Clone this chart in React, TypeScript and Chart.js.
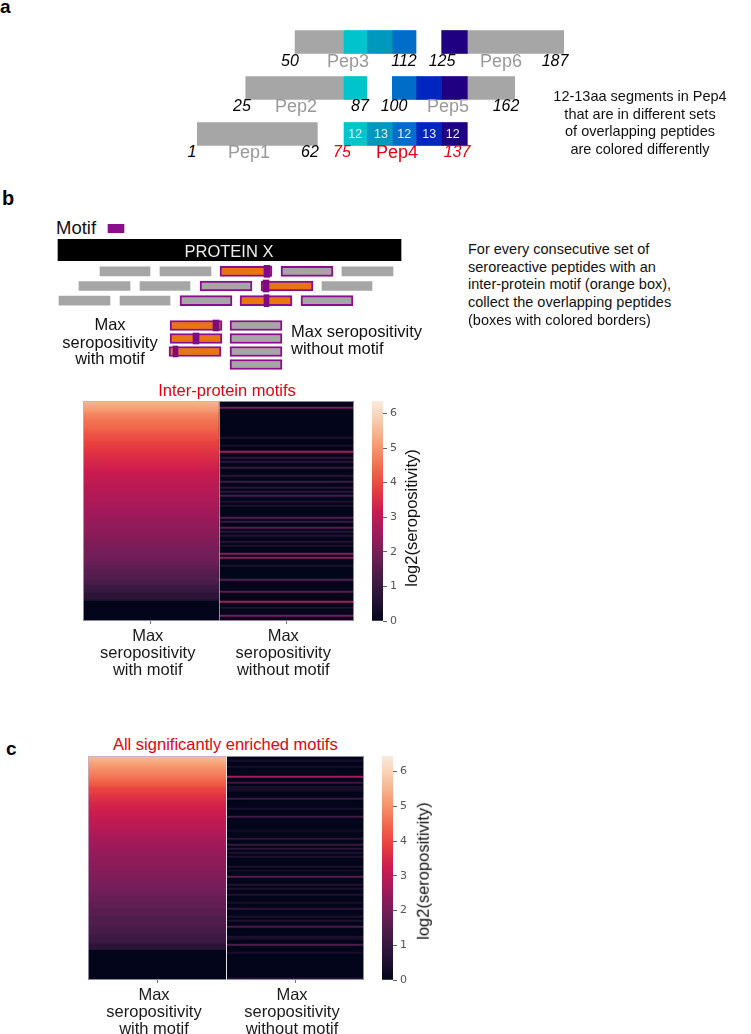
import React, { useEffect, useRef } from "react";
import { Chart, registerables } from "chart.js";

Chart.register(...registerables);

const FONT = '"Liberation Sans", Arial, sans-serif';

// ---------- Panel a: residue ranges per row, as drawn in the schematic ----------
const peptideRows = ["top", "middle", "bottom"];
const grayRanges = [
  { y: "top", x: [50.7, 75.5] }, { y: "top", x: [138, 187] },
  { y: "middle", x: [25.7, 75.5] }, { y: "middle", x: [138, 162] },
  { y: "bottom", x: [1, 62] },
];
const seg75to87 = [{ y: "top", x: [75.5, 87] }, { y: "middle", x: [75.5, 87] }, { y: "bottom", x: [75.5, 87] }];
const seg87to100 = [{ y: "top", x: [87, 100] }, { y: "bottom", x: [87, 100] }];
const seg100to112 = [{ y: "top", x: [100, 112] }, { y: "middle", x: [100, 112] }, { y: "bottom", x: [100, 112] }];
const seg112to125 = [{ y: "middle", x: [112, 125] }, { y: "bottom", x: [112, 125] }];
const seg125to137 = [{ y: "top", x: [125, 138] }, { y: "middle", x: [125, 138] }, { y: "bottom", x: [125, 138] }];

// ---------- Panel b schematic ----------
const proteinRange = [{ y: "protein", x: [58, 401] }];
const motifKey = [{ y: "key", x: [108, 124] }];
const tileRows = ["r1", "r2", "r3"];
const tilePlain = [
  { y: "r1", x: [100, 150] }, { y: "r1", x: [160, 211] }, { y: "r1", x: [342, 393] },
  { y: "r2", x: [79, 130] }, { y: "r2", x: [140, 190] }, { y: "r2", x: [322, 372] },
  { y: "r3", x: [59, 110] }, { y: "r3", x: [120, 170] },
];
const tileOverlapGray = [
  { y: "r1", x: [281, 333] }, { y: "r2", x: [200, 252] },
  { y: "r3", x: [180, 232] }, { y: "r3", x: [301, 353] },
];
const tileOverlapOrange = [
  { y: "r1", x: [220, 272] }, { y: "r2", x: [261, 313] }, { y: "r3", x: [240, 292] },
];
const tileMotif = [
  { y: "r1", x: [264, 270] }, { y: "r2", x: [263, 269] }, { y: "r3", x: [264, 269] },
];
const pickedRows = ["p1", "p2", "p3", "p4"];
const pickedOrange = [
  { y: "p1", x: [170, 222] }, { y: "p2", x: [170, 222] }, { y: "p3", x: [169, 221] },
];
const pickedGray = [
  { y: "p1", x: [230, 282] }, { y: "p2", x: [230, 282] }, { y: "p3", x: [230, 282] }, { y: "p4", x: [230, 282] },
];
const pickedMotif = [
  { y: "p1", x: [213, 219] }, { y: "p2", x: [193, 199] }, { y: "p3", x: [173, 178] },
];

// ---------- Heatmap values, log2(seropositivity), one entry per row ----------
const heatColumns = ["Max seropositivity with motif", "Max seropositivity without motif"];
const tickWithMotif = ["Max", "seropositivity", "with motif"];
const tickWithoutMotif = ["Max", "seropositivity", "without motif"];
const colorbarTicks = [0, 1, 2, 3, 4, 5, 6];

const interWith = [
  5.5, 5.4, 5.3, 5.2, 5.1, 5.0, 4.8, 4.75, 4.7, 4.62,
  4.55, 4.5, 4.45, 4.4, 4.3, 4.25, 4.15, 4.1, 4.05, 4.0,
  3.9, 3.85, 3.8, 3.75, 3.7, 3.65, 3.6, 3.55, 3.5, 3.46,
  3.42, 3.38, 3.34, 3.3, 3.25, 3.2, 3.17, 3.12, 3.08, 3.04,
  3, 3, 2.95, 2.95, 2.9, 2.87, 2.87, 2.81, 2.81, 2.77,
  2.75, 2.7, 2.7, 2.65, 2.58, 2.58, 2.58, 2.52, 2.5, 2.46,
  2.43, 2.4, 2.36, 2.32, 2.32, 2.32, 2.25, 2.25, 2.2, 2.17,
  2.12, 2.12, 2.07, 2.07, 2, 2, 2, 1.95, 1.9, 1.9,
  1.8, 1.8, 1.7, 1.7, 1.58, 1.58, 1.58, 1.46, 1.46, 1.46,
  1.32, 1.32, 1.15, 1.15, 1, 1, 0.8, 0.8, 0.8, 0.6,
  0, 0, 0, 0, 0, 0, 0, 0, 0, 0,
];
const interWithout = [
  0, 0, 0, 2.0, 0, 0, 0, 0, 0, 0,
  0, 0, 0, 0, 0, 0, 0, 0, 0.5, 0,
  0, 0, 0.4, 0, 0, 2.6, 0, 0, 0.8, 0,
  0.8, 0, 0, 1, 0, 0, 0, 0.8, 0, 0,
  1.1, 0, 0, 0.7, 0, 0.8, 0, 1.3, 0, 0,
  0.5, 0, 0.5, 0, 0, 0, 0, 0, 1.5, 0,
  1, 0, 0, 1.5, 0, 0.8, 0, 0.6, 0, 0,
  0.6, 0, 0.5, 0, 0, 0, 2.2, 0, 2.3, 0,
  0, 0, 0.5, 0, 0, 0, 0, 0, 0, 1.5,
  0, 0, 0, 0, 0, 1.5, 0, 0, 0, 0,
  2.8, 0, 0, 0.5, 0, 0, 0, 2.0, 0, 0,
];
const allWith = [
  5.55, 5.45, 5.35, 5.25, 5.12, 5.05, 4.95, 4.85, 4.78, 4.7,
  4.6, 4.5, 4.4, 4.3, 4.2, 4.05, 3.9, 3.85, 3.8, 3.7,
  3.6, 3.55, 3.5, 3.45, 3.4, 3.35, 3.3, 3.25, 3.2, 3.17,
  3.12, 3.08, 3.04, 3, 3, 2.95, 2.9, 2.87, 2.81, 2.75,
  2.7, 2.66, 2.64, 2.6, 2.58, 2.52, 2.5, 2.46, 2.43, 2.4,
  2.36, 2.32, 2.32, 2.32, 2.3, 2.25, 2.25, 2.2, 2.17, 2.17,
  2.12, 2.12, 2.07, 2.07, 2, 2, 2, 1.95, 1.9, 1.9,
  1.8, 1.8, 1.8, 1.7, 1.7, 1.7, 1.58, 1.58, 1.58, 1.58,
  1.46, 1.46, 1.46, 1.46, 1.46, 1.32, 1.32, 1.32, 1.32, 1.15,
  1.15, 1.15, 1.15, 1, 0.8, 0.8, 0.8, 0, 0, 0,
  0, 0, 0, 0, 0, 0, 0, 0, 0, 0,
  0, 0,
];
const allWithout = [
  0, 0, 0.4, 0, 0, 0.4, 0, 0, 0, 0,
  2.6, 0, 0, 1, 0, 0.4, 0.4, 0.3, 0, 0,
  0, 1, 0, 0, 0, 0, 0.4, 0, 0, 0,
  1.2, 0, 0, 0, 0, 0, 0, 0.3, 0, 0,
  0, 0.7, 0, 0, 1, 0, 0.7, 0, 0.5, 0,
  0.5, 0, 0, 0, 0, 0.5, 0, 0.3, 0, 0,
  1.5, 0, 0, 0, 0.6, 0, 0.5, 0, 0, 0.6,
  0, 0, 0, 0.4, 0, 0, 0.8, 0, 0, 0,
  0.5, 0, 0.5, 0, 0, 1.3, 0, 0, 0, 0,
  0.5, 0.4, 0, 0, 1.4, 0, 0, 0, 0.4, 0,
  0, 0, 0, 0, 0, 0, 0, 0, 0, 0,
  0, 0.8,
];

// ---------- Styles ----------
const ROCKET = ["#03051a", "#251335", "#451c47", "#701f57", "#a11a5b", "#cb1b4f", "#e83f3f", "#f26c4e", "#f69c73", "#f7c8a8", "#faebdd"];
const GRAY = "#a6a6a6";
const PURPLE = "#8b0f8b";
const MOTIF = "#7d0a80";
const ORANGE = "#e8750f";

function hex(c: string) {
  return [1, 3, 5].map((i) => parseInt(c.slice(i, i + 2), 16));
}
function rocket(t: number) {
  const p = Math.max(0, Math.min(1, t)) * (ROCKET.length - 1);
  const i = Math.min(Math.floor(p), ROCKET.length - 2);
  const a = hex(ROCKET[i]);
  const b = hex(ROCKET[i + 1]);
  const f = p - i;
  return `rgb(${a.map((v, k) => Math.round(v + (b[k] - v) * f)).join(",")})`;
}

function useChart(build: (c: HTMLCanvasElement) => any) {
  const ref = useRef<HTMLCanvasElement>(null);
  useEffect(() => {
    const chart = new Chart(ref.current as HTMLCanvasElement, build(ref.current as HTMLCanvasElement));
    return () => chart.destroy();
  }, []);
  return ref;
}

const abs = (left: number, top: number): React.CSSProperties => ({ position: "absolute", left, top, display: "block" });

function RangeChart({ left, top, width, height, min, max, rows, series }: any) {
  const ref = useChart(() => ({
    type: "bar",
    data: {
      labels: rows,
      datasets: series.map((s: any) => ({
        data: s.data,
        stack: "row",
        backgroundColor: s.fill,
        borderColor: s.edge ?? s.fill,
        borderWidth: s.edge ? 2 : 0,
        borderSkipped: false,
        barThickness: s.thick,
      })),
    },
    options: {
      indexAxis: "y",
      animation: false,
      responsive: false,
      devicePixelRatio: 1,
      layout: { padding: 0, autoPadding: false },
      plugins: { legend: { display: false }, tooltip: { enabled: false } },
      scales: {
        x: { type: "linear", min, max, stacked: false, display: false },
        y: { type: "category", stacked: true, display: false },
      },
    },
  }));
  return <canvas ref={ref} width={width} height={height} style={abs(left, top)} />;
}

function Heatmap({ left, top, width, rowsHeight, withMotif, withoutMotif, vmax, split }: any) {
  const ref = useChart(() => ({
    type: "bar",
    data: {
      labels: withMotif.map((_: number, i: number) => String(i)),
      datasets: [
        { label: heatColumns[0], data: withMotif.map(() => [0, 1]), backgroundColor: withMotif.map((v: number) => rocket(v / vmax)), stack: "row", barPercentage: 1, categoryPercentage: 1 },
        { label: heatColumns[1], data: withoutMotif.map(() => [1, 2]), backgroundColor: withoutMotif.map((v: number) => rocket(v / vmax)), stack: "row", barPercentage: 1, categoryPercentage: 1 },
      ],
    },
    options: {
      indexAxis: "y",
      animation: false,
      responsive: false,
      devicePixelRatio: 1,
      layout: { padding: 0, autoPadding: false },
      plugins: { legend: { display: false }, tooltip: { enabled: false } },
      scales: {
        x: {
          type: "linear", min: 0, max: 2, stacked: false,
          afterBuildTicks: (a: any) => { a.ticks = [{ value: 0.5 }, { value: 1.5 }]; },
          afterFit: (a: any) => { a.height = 60; },
          border: { display: false },
          grid: { drawOnChartArea: false, tickLength: 3, color: "#777", tickWidth: 1 },
          ticks: {
            autoSkip: false, maxRotation: 0, minRotation: 0, padding: 4.5, labelOffset: -3, color: "#1a1a1a",
            font: { family: FONT, size: 16.5, lineHeight: 1.02 },
            callback: (v: number) => (v < 1 ? tickWithMotif : tickWithoutMotif),
          },
        },
        y: { type: "category", stacked: true, display: false },
      },
    },
    plugins: [{
      id: "frame",
      afterDatasetsDraw(c: any) {
        const { ctx, chartArea: a, scales } = c;
        ctx.save();
        ctx.strokeStyle = "rgba(190,175,205,0.75)";
        ctx.lineWidth = 1;
        ctx.strokeRect(a.left + 0.5, a.top + 0.5, a.width - 1, a.height - 1);
        ctx.strokeStyle = split;
        ctx.beginPath();
        const x = Math.round(scales.x.getPixelForValue(1)) + 0.5;
        ctx.moveTo(x, a.top);
        ctx.lineTo(x, a.bottom);
        ctx.stroke();
        ctx.restore();
      },
    }],
  }));
  return <canvas ref={ref} width={width} height={rowsHeight + 60} style={abs(left, top)} />;
}

function Colorbar({ left, top, height, max }: any) {
  const ref = useChart(() => ({
    type: "bar",
    data: {
      labels: ["log2(seropositivity)"],
      datasets: [{
        data: [[0, max]],
        barPercentage: 1,
        categoryPercentage: 1,
        backgroundColor: (ctx: any) => {
          const a = ctx.chart.chartArea;
          if (!a) return ROCKET[0];
          const g = ctx.chart.ctx.createLinearGradient(0, a.bottom, 0, a.top);
          ROCKET.forEach((c, i) => g.addColorStop(i / (ROCKET.length - 1), c));
          return g;
        },
      }],
    },
    options: {
      animation: false,
      responsive: false,
      devicePixelRatio: 1,
      layout: { padding: { top: 8, bottom: 8 }, autoPadding: false },
      plugins: { legend: { display: false }, tooltip: { enabled: false } },
      scales: {
        x: { type: "category", display: false },
        y: {
          type: "linear", position: "right", min: 0, max,
          afterBuildTicks: (a: any) => { a.ticks = colorbarTicks.map((value) => ({ value })); },
          afterFit: (a: any) => { a.width = 24; a.paddingTop = 0; a.paddingBottom = 0; },
          border: { display: false },
          grid: { drawOnChartArea: false, tickLength: 4, color: "#666" },
          ticks: { color: "#555", padding: 3, font: { family: '"DejaVu Sans"', size: 11 }, autoSkip: false },
        },
      },
    },
  }));
  return <canvas ref={ref} width={35} height={height + 16} style={abs(left, top - 8)} />;
}

function T({ x, y, children, size = 16.5, color = "#111", italic, bold, align = "center", rotate }: any) {
  const tx = align === "center" ? "-50%" : "0";
  return (
    <div style={{
      position: "absolute", left: x, top: y, whiteSpace: "pre", fontFamily: FONT, fontSize: size, lineHeight: 1,
      color, fontStyle: italic ? "italic" : "normal", fontWeight: bold ? 700 : 400, textAlign: align,
      transform: `translate(${tx},-50%)${rotate ? ` rotate(${rotate}deg)` : ""}`,
    }}>{children}</div>
  );
}

const panelALabels = [
  ["50", 290, 60.7, "#000", true, 16], ["Pep3", 348, 60.7, "#999", false, 18], ["112", 404, 60.7, "#000", true, 16],
  ["125", 442, 60.7, "#000", true, 16], ["Pep6", 501, 60.7, "#999", false, 18], ["187", 555, 60.7, "#000", true, 16],
  ["25", 242, 106, "#000", true, 16], ["Pep2", 296, 106, "#999", false, 18], ["87", 360, 106, "#000", true, 16],
  ["100", 394, 106, "#000", true, 16], ["Pep5", 448, 106, "#999", false, 18], ["162", 506, 106, "#000", true, 16],
  ["1", 192, 151.7, "#000", true, 16], ["Pep1", 249, 151.7, "#999", false, 18], ["62", 310, 151.7, "#000", true, 16],
  ["75", 342, 151.7, "#e8000f", true, 16], ["Pep4", 397, 151.7, "#e8000f", false, 18], ["137", 457, 151.7, "#e8000f", true, 16],
];
const segmentLengths = [["12", 355.3], ["13", 381], ["12", 404.3], ["13", 429.3], ["12", 452.7]];

export default function App() {
  return (
    <div style={{ position: "absolute", left: 0, top: 0, width: 751, height: 1034, overflow: "hidden", background: "#fff" }}>
      <T x={0} y={6} size={19} bold align="left" color="#000">a</T>
      <T x={2} y={198} size={20} bold align="left" color="#000">b</T>
      <T x={6} y={748} size={19} bold align="left" color="#000">c</T>

      <RangeChart left={197} top={19} width={367} height={138} min={1} max={187} rows={peptideRows}
        series={[
          { data: seg75to87, fill: "#00c4cc", thick: 23 },
          { data: seg87to100, fill: "#0098bc", thick: 23 },
          { data: seg100to112, fill: "#006ec8", thick: 23 },
          { data: seg112to125, fill: "#0026c0", thick: 23 },
          { data: seg125to137, fill: "#1f0080", thick: 23 },
          { data: grayRanges, fill: GRAY, thick: 23 },
        ]} />
      {panelALabels.map(([s, x, y, c, it, fs]: any, i) => <T key={i} x={x} y={y} color={c} italic={it} size={fs}>{s}</T>)}
      {segmentLengths.map(([s, x]: any, i) => <T key={i} x={x} y={133.5} size={12.5} color="#e6eef8">{s}</T>)}
      <T x={640} y={96} size={14.5} color="#111">12-13aa segments in Pep4</T>
      <T x={640} y={113.5} size={14.5} color="#111">that are in different sets</T>
      <T x={640} y={131} size={14.5} color="#111">of overlapping peptides</T>
      <T x={640} y={148.5} size={14.5} color="#111">are colored differently</T>

      <T x={56} y={228} size={18.5} align="left">Motif</T>
      <RangeChart left={40} top={224} width={400} height={9} min={40} max={440} rows={["key"]}
        series={[{ data: motifKey, fill: PURPLE, thick: 9 }]} />
      <RangeChart left={40} top={239} width={400} height={22} min={40} max={440} rows={["protein"]}
        series={[{ data: proteinRange, fill: "#000", thick: 22 }]} />
      <T x={229} y={250.5} size={16.5} color="#eee">PROTEIN X</T>
      <RangeChart left={40} top={264} width={400} height={44} min={40} max={440} rows={tileRows}
        series={[
          { data: tileMotif, fill: MOTIF, thick: 12 },
          { data: tileOverlapOrange, fill: ORANGE, edge: PURPLE, thick: 10 },
          { data: tileOverlapGray, fill: GRAY, edge: PURPLE, thick: 10 },
          { data: tilePlain, fill: GRAY, thick: 9 },
        ]} />
      <RangeChart left={40} top={319} width={400} height={52} min={40} max={440} rows={pickedRows}
        series={[
          { data: pickedMotif, fill: MOTIF, thick: 11 },
          { data: pickedOrange, fill: ORANGE, edge: PURPLE, thick: 10 },
          { data: pickedGray, fill: GRAY, edge: PURPLE, thick: 10 },
        ]} />
      <T x={110} y={324}>Max</T>
      <T x={110} y={341.5}>seropositivity</T>
      <T x={110} y={358}>with motif</T>
      <T x={291} y={331} align="left">Max seropositivity</T>
      <T x={291} y={347.5} align="left">without motif</T>
      {["For every consecutive set of", "seroreactive peptides with an", "inter-protein motif (orange box),", "collect the overlapping peptides", "(boxes with colored borders)"].map((s, i) => (
        <T key={i} x={468} y={249 + i * 17.7} size={14.5} align="left">{s}</T>
      ))}

      <T x={227} y={390} color="#e8000f">Inter-protein motifs</T>
      <Heatmap left={83} top={401} width={271} rowsHeight={220} withMotif={interWith} withoutMotif={interWithout} vmax={6.4} split="rgba(190,175,205,0.75)" />
      <Colorbar left={372} top={401} height={220} max={6.36} />
      <T x={411} y={518} rotate={-90}>log2(seropositivity)</T>

      <T x={225.3} y={744} color="#e8000f">All significantly enriched motifs</T>
      <Heatmap left={88} top={756} width={276} rowsHeight={224} withMotif={allWith} withoutMotif={allWithout} vmax={6.4} split="#e6e3ea" />
      <Colorbar left={382} top={756} height={224} max={6.45} />
      <T x={423} y={871} rotate={-90}>log2(seropositivity)</T>
    </div>
  );
}
